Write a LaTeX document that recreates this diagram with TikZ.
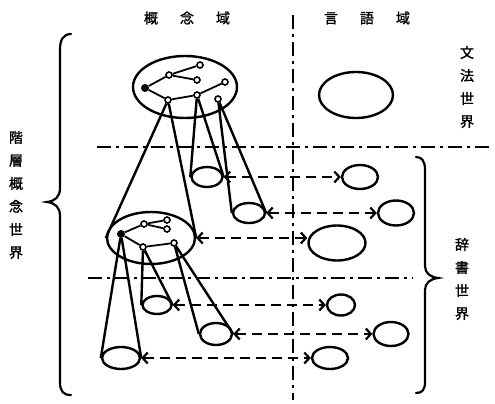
\documentclass[tikz,border=0pt]{standalone}
\usepackage{fontspec}
\newfontfamily\cjk{Noto Sans CJK JP}[FakeBold=1.5]
\usetikzlibrary{arrows.meta,shapes.geometric}
\begin{document}
\begin{tikzpicture}[x=1pt,y=-1pt,
 ell/.style={draw,ellipse,line width=2.4pt,inner sep=0pt,fill=white},
 gdot/.style={draw,circle,line width=1.6pt,inner sep=0pt,minimum size=6pt,fill=white},
 bigdot/.style={circle,inner sep=0pt,minimum size=8pt,fill=black},
 gedge/.style={line width=1.8pt},
 cone/.style={line width=2.4pt},
 darr/.style={line width=2.2pt,dash pattern=on 10pt off 6pt,
   {Straight Barb[length=5pt,width=11pt]}-{Straight Barb[length=5pt,width=11pt]}},
 divider/.style={line width=2.2pt,dash pattern=on 14pt off 5pt on 3pt off 5pt},
 bracepath/.style={line width=2.2pt,line cap=round},
 lab/.style={font=\cjk\fontsize{14}{23}\selectfont,align=center,inner sep=0pt},
]
\useasboundingbox (0,0) rectangle (495,404);

% dividers
\coordinate (v1) at (293,15);
\coordinate (v2) at (293,400);
\coordinate (h1a) at (97,147);
\coordinate (h1b) at (493,147);
\coordinate (h2a) at (88,278);
\coordinate (h2b) at (413,278);
\draw[divider] (v1) -- (v2);
\draw[divider] (h1a) -- (h1b);
\draw[divider] (h2a) -- (h2b);

% labels
\node[lab] (t1) at (187,18) {概\hspace{22pt}念\hspace{22pt}域};
\node[lab] (t2) at (367,18) {言\hspace{22pt}語\hspace{22pt}域};
\node[lab] (L1) at (16,195) {階\\層\\概\\念\\世\\界};
\node[lab] (L2) at (467,87) {文\\法\\世\\界};
\node[lab] (L3) at (462,279) {辞\\書\\世\\界};

% braces
\draw[bracepath] (71,34) .. controls (63,34) and (60,40) .. (60,50) -- (60,188)
  .. controls (60,197) and (55,201) .. (47,202)
  .. controls (55,203) and (60,207) .. (60,216) -- (60,382)
  .. controls (60,391) and (63,395) .. (71,395);
\draw[bracepath] (416,157) .. controls (422,157) and (425,161) .. (425,170) -- (425,266)
  .. controls (425,273) and (430,277) .. (438,278)
  .. controls (430,279) and (425,283) .. (425,290) -- (425,382)
  .. controls (425,390) and (422,393) .. (416,393);

% concept ellipses
\node[ell,minimum width=104pt,minimum height=62pt] (E1) at (185,87) {};
\node[ell,minimum width=88pt,minimum height=52pt] (E2) at (151,238) {};
\node[ell,minimum width=31pt,minimum height=20pt] (C2) at (207,177) {};
\node[ell,minimum width=32pt,minimum height=20pt] (C3) at (249,213) {};
\node[ell,minimum width=38pt,minimum height=22pt] (C4) at (121,358) {};
\node[ell,minimum width=29pt,minimum height=18pt] (C5) at (157,305) {};
\node[ell,minimum width=32pt,minimum height=22pt] (C6) at (216,334) {};

% language ellipses
\node[ell,minimum width=74pt,minimum height=46pt] (R0) at (356,95) {};
\node[ell,minimum width=36pt,minimum height=24pt] (R1) at (360,177) {};
\node[ell,minimum width=36pt,minimum height=25pt] (R2) at (396,213) {};
\node[ell,minimum width=57pt,minimum height=35pt] (R3) at (337,243) {};
\node[ell,minimum width=28pt,minimum height=21pt] (R4) at (341,305) {};
\node[ell,minimum width=35pt,minimum height=24pt] (R5) at (391,334) {};
\node[ell,minimum width=36pt,minimum height=22pt] (R6) at (330,358) {};

% graph in E1
\node[bigdot] (a) at (145,88) {};
\node[gdot] (b) at (169,75) {};
\node[gdot] (c) at (200,65) {};
\node[gdot] (d) at (197,80) {};
\node[gdot] (e) at (168,100) {};
\node[gdot] (f) at (197,95) {};
\node[gdot] (g) at (225,82) {};
\node[gdot] (h) at (218,99) {};
\draw[gedge] (a) -- (b) (b) -- (c) (b) -- (d) (a) -- (e) (e) -- (f) (f) -- (g);

% graph in E2
\node[bigdot] (p) at (121,234) {};
\node[gdot] (q) at (144,224) {};
\node[gdot] (r) at (167,220) {};
\node[gdot] (s) at (167,229) {};
\node[gdot] (t) at (143,247) {};
\node[gdot] (u) at (174,243) {};
\draw[gedge] (p) -- (q) (q) -- (r) (q) -- (s) (p) -- (t) (t) -- (u);

% cones
\draw[cone] (e) -- (E2.west) (e) -- (E2.east);
\draw[cone] (f) -- (C2.west) (f) -- (C2.east);
\draw[cone] (h) -- (C3.west) (h) -- (C3.east);
\draw[cone] (p) -- (C4.west) (p) -- (C4.east);
\draw[cone] (t) -- (C5.west) (t) -- (C5.east);
\draw[cone] (u) -- (C6.west) (u) -- (C6.east);

% correspondences
\draw[darr] (C2.east) -- (R1.west);
\draw[darr] (C3.east) -- (R2.west);
\draw[darr] (E2.east) -- (E2.east -| R3.west);
\draw[darr] (C5.east) -- (R4.west);
\draw[darr] (C6.east) -- (R5.west);
\draw[darr] (C4.east) -- (R6.west);
\end{tikzpicture}
\end{document}
